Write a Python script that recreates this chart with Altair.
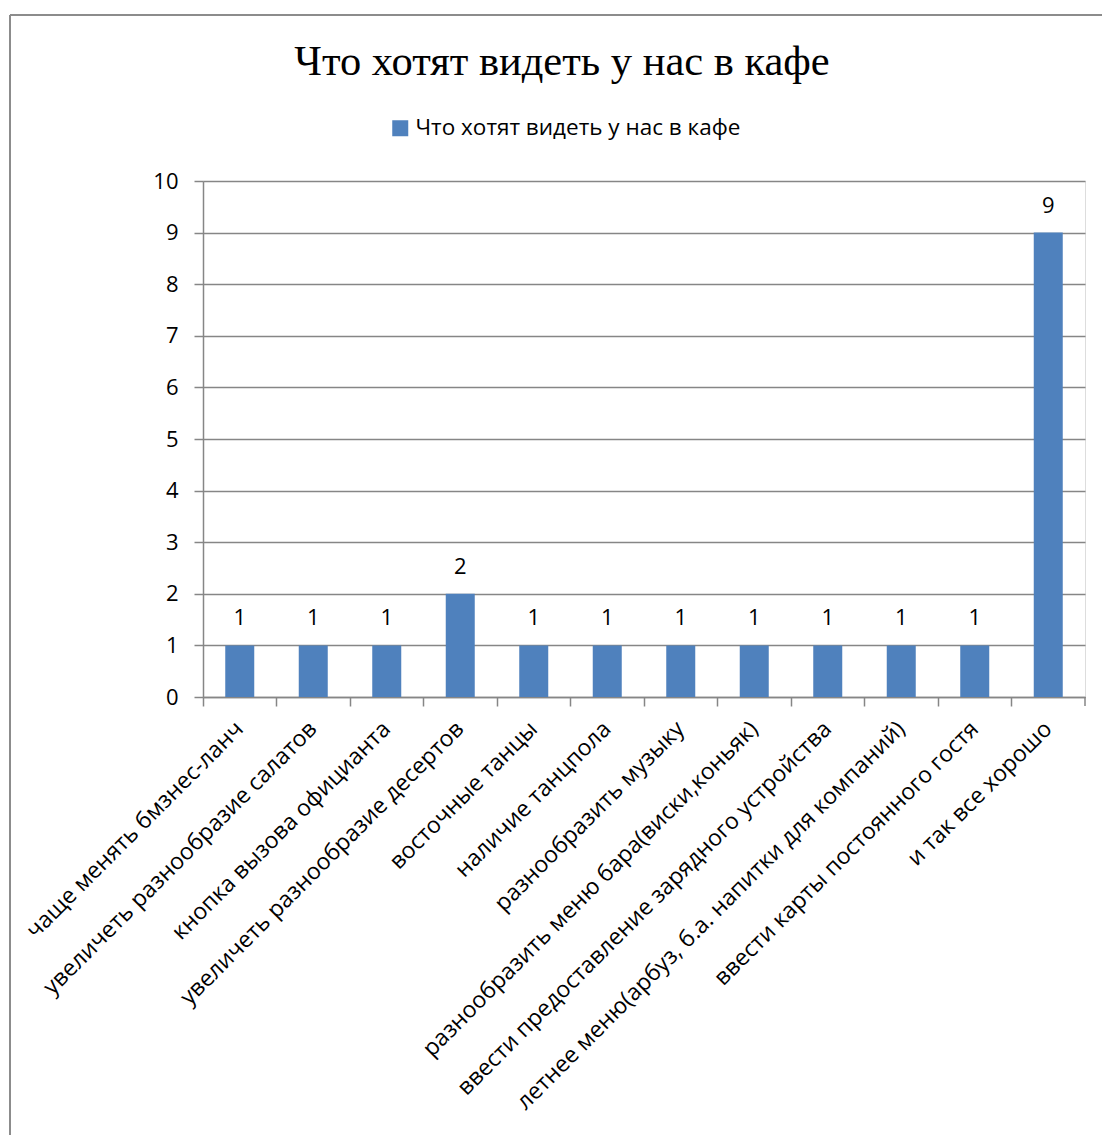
import altair as alt
import pandas as pd

categories = [
    "чаще менять бмзнес-ланч",
    "увеличеть разнообразие салатов",
    "кнопка вызова официанта",
    "увеличеть разнообразие десертов",
    "восточные танцы",
    "наличие танцпола",
    "разнообразить музыку",
    "разнообразить меню бара(виски,коньяк)",
    "ввести предоставление зарядного устройства",
    "летнее меню(арбуз, б.а. напитки для компаний)",
    "ввести карты постоянного гостя",
    "и так все хорошо",
]
values = [1, 1, 1, 2, 1, 1, 1, 1, 1, 1, 1, 9]
series_name = "Что хотят видеть у нас в кафе"
title_text = "Что хотят видеть у нас в кафе"

df = pd.DataFrame({"cat": categories, "val": values, "series": [series_name] * len(values)})

W, H = 882, 516
LABEL_FONT = "Open Sans"
FS = 22

x = alt.X(
    "cat:N",
    sort=categories,
    title=None,
    scale=alt.Scale(paddingInner=0, paddingOuter=0),
    axis=alt.Axis(
        labelAngle=-45,
        labelAlign="right",
        labelBaseline="middle",
        labelFont=LABEL_FONT,
        labelFontSize=23,
        labelColor="#000000",
        labelPadding=19,
        labelLimit=0,
        bandPosition=0,
        ticks=True,
        tickSize=9,
        tickColor="#868686",
        domainColor="#868686",
        domainWidth=1.5,
        tickWidth=1.5,
        grid=False,
    ),
)
y = alt.Y(
    "val:Q",
    title=None,
    scale=alt.Scale(domain=[0, 10], nice=False),
    axis=alt.Axis(
        values=list(range(0, 11)),
        labelFont=LABEL_FONT,
        labelFontSize=FS,
        labelColor="#000000",
        labelPadding=16,
        tickSize=9,
        tickColor="#868686",
        tickWidth=1.5,
        domainColor="#868686",
        domainWidth=1.5,
        grid=True,
        gridColor="#868686",
        gridWidth=1.5,
    ),
)

bars = alt.Chart(df).mark_bar(size=29).encode(
    x=x,
    y=y,
    color=alt.Color(
        "series:N",
        scale=alt.Scale(range=["#4F81BD"]),
        legend=alt.Legend(
            title=None,
            orient="none",
            legendX=186,
            legendY=-64,
            symbolType="square",
            symbolSize=256,
            symbolStrokeWidth=0,
            labelFont=LABEL_FONT,
            labelFontSize=22.5,
            labelColor="#000000",
            labelOffset=4,
            labelLimit=0,
        ),
    ),
)

texts = alt.Chart(df).mark_text(
    font=LABEL_FONT, fontSize=FS, color="#000000", dy=-27
).encode(x=alt.X("cat:N", sort=categories), y="val:Q", text="val:Q")

# last x tick at the right end of the axis
end_tick = alt.Chart(df.head(1)).mark_rule(color="#868686", strokeWidth=1.5).encode(
    x=alt.value(W), y=alt.value(H), y2=alt.value(H + 9)
)

# outer chart frame (left and top edges)
frame_left = alt.Chart(df.head(1)).mark_rule(color="#8c8c8c", strokeWidth=2).encode(
    x=alt.value(-193), y=alt.value(-166), y2=alt.value(H + 460)
)
frame_top = alt.Chart(df.head(1)).mark_rule(color="#8c8c8c", strokeWidth=2).encode(
    x=alt.value(-193), x2=alt.value(W + 40), y=alt.value(-166)
)

chart = (
    alt.layer(frame_left, frame_top, bars, texts, end_tick)
    .properties(
        width=W,
        height=H,
        title=alt.TitleParams(
            title_text,
            font="Liberation Serif",
            fontSize=42.5,
            fontWeight="normal",
            color="#000000",
            anchor="middle",
            baseline="alphabetic",
            dx=-82,
            dy=103,
            offset=0,
        ),
        autosize=alt.AutoSizeParams(type="none"),
        padding={"left": 203, "top": 181, "right": 17, "bottom": 438},
    )
    .configure_view(stroke=None)
    .configure(background="white")
)

chart.save("out.html", embed_options={"renderer": "svg", "actions": False})
